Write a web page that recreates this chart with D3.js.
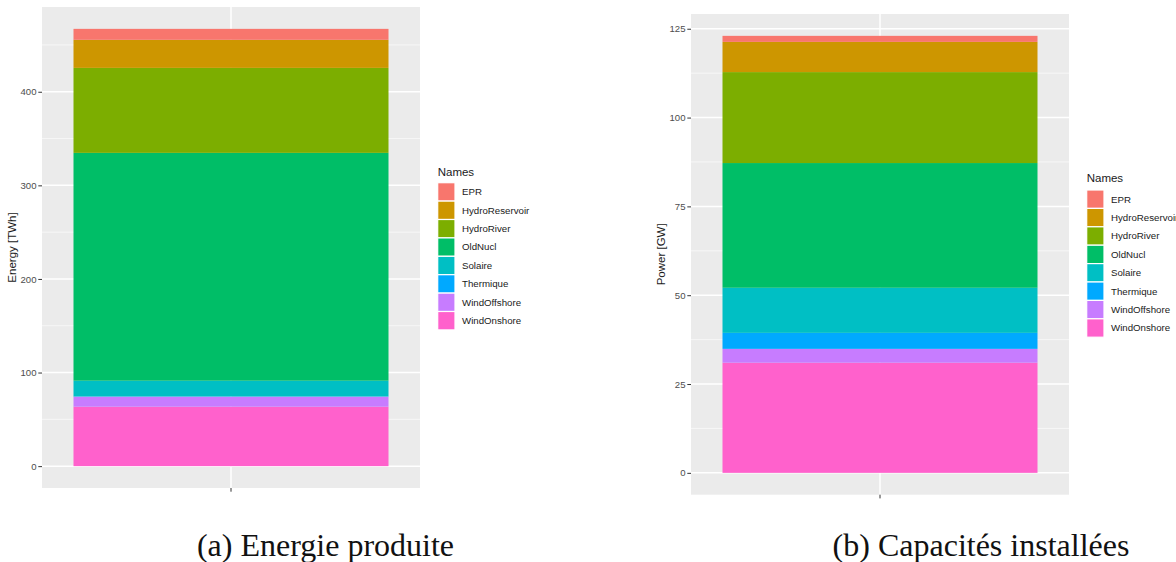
<!DOCTYPE html>
<html>
<head>
<meta charset="utf-8">
<script src="https://cdn.jsdelivr.net/npm/d3@7"></script>
<style>
  html, body { margin: 0; padding: 0; background: #ffffff; }
  svg { display: block; }
</style>
</head>
<body>
<svg id="chart" width="1176" height="562"></svg>
<script>
// ---- data ----
const names = ["EPR", "HydroReservoir", "HydroRiver", "OldNucl", "Solaire", "Thermique", "WindOffshore", "WindOnshore"];
const colors = ["#F8766D", "#CD9600", "#7CAE00", "#00BE67", "#00BFC4", "#00A9FF", "#C77CFF", "#FF61CC"];
const energyTWh = [11.7, 30.0, 90.8, 243.4, 16.8, 0.3, 10.7, 63.5];
const powerGW = [1.7, 8.5, 25.6, 35.1, 12.7, 4.5, 3.9, 31.0];
const energyTicks = [0, 100, 200, 300, 400];
const energyMinor = [50, 150, 250, 350, 450];
const powerTicks = [0, 25, 50, 75, 100, 125];
const powerMinor = [12.5, 37.5, 62.5, 87.5, 112.5];
const legendTitle = "Names";
const captions = ["(a) Energie produite", "(b) Capacités installées"];
const yTitles = ["Energy [TWh]", "Power [GW]"];

const svg = d3.select("#chart");
const SANS = "'Liberation Sans', Arial, Helvetica, sans-serif";
const SERIF = "'Liberation Serif', 'Times New Roman', serif";

function drawPanel(cfg) {
  const { left, right, top, bottom, values, ticks, minor, yTitle, yTitleX, legendX, legendTop, legendTitleY, caption, captionX } = cfg;
  const g = svg.append("g");

  // stack: bottom is last level (WindOnshore)
  const row = {};
  names.forEach((n, i) => row[n] = values[i]);
  const keys = names.slice().reverse();
  const series = d3.stack().keys(keys)([row]);
  const total = d3.sum(values);
  const ext = total * 0.05;

  const y = d3.scaleLinear().domain([-ext, total + ext]).range([bottom, top]);
  const x = d3.scaleBand().domain(["1"]).range([left, right]).paddingInner(0).paddingOuter(0.1);
  const cx = x("1") + x.bandwidth() / 2;

  // panel background
  g.append("rect").attr("x", left).attr("y", top).attr("width", right - left).attr("height", bottom - top).attr("fill", "#EBEBEB");

  // minor grid
  g.selectAll(".minor").data(minor).join("line")
    .attr("x1", left).attr("x2", right)
    .attr("y1", d => y(d)).attr("y2", d => y(d))
    .attr("stroke", "#F7F7F7").attr("stroke-width", 1);
  // major grid
  g.selectAll(".major").data(ticks).join("line")
    .attr("x1", left).attr("x2", right)
    .attr("y1", d => y(d)).attr("y2", d => y(d))
    .attr("stroke", "#FFFFFF").attr("stroke-width", 1.5);
  g.append("line").attr("x1", cx).attr("x2", cx).attr("y1", top).attr("y2", bottom)
    .attr("stroke", "#FFFFFF").attr("stroke-width", 1.5);

  // bars
  g.selectAll(".seg").data(series).join("rect")
    .attr("x", x("1"))
    .attr("width", x.bandwidth())
    .attr("y", d => y(d[0][1]))
    .attr("height", d => Math.max(0, y(d[0][0]) - y(d[0][1])))
    .attr("fill", d => colors[names.indexOf(d.key)]);

  // y axis
  const ya = g.append("g").attr("transform", `translate(${left},0)`)
    .call(d3.axisLeft(y).tickValues(ticks).tickSize(3.7).tickPadding(1.8));
  ya.select(".domain").remove();
  ya.selectAll(".tick line").attr("stroke", "#333333").attr("stroke-width", 1);
  ya.selectAll(".tick text").attr("fill", "#4D4D4D").style("font-family", SANS).style("font-size", "9.6px");

  // x axis (single empty tick)
  const xa = g.append("g").attr("transform", `translate(0,${bottom})`)
    .call(d3.axisBottom(x).tickSize(3.7).tickFormat(() => ""));
  xa.select(".domain").remove();
  xa.selectAll(".tick line").attr("stroke", "#333333").attr("stroke-width", 1);

  // y title
  g.append("text")
    .attr("transform", `translate(${yTitleX},${(top + bottom) / 2}) rotate(-90)`)
    .attr("text-anchor", "middle").attr("dy", "0.35em")
    .style("font-family", SANS).style("font-size", "11.5px").attr("fill", "#1A1A1A")
    .text(yTitle);

  // legend
  const lg = g.append("g");
  lg.append("text").attr("x", legendX).attr("y", legendTitleY)
    .style("font-family", SANS).style("font-size", "11.5px").attr("fill", "#1A1A1A")
    .text(legendTitle);
  const keyH = 18.4, keyW = 17.3;
  const items = lg.selectAll(".item").data(names).join("g")
    .attr("transform", (d, i) => `translate(${legendX},${legendTop + i * keyH})`);
  items.append("rect").attr("width", keyW).attr("height", keyH)
    .attr("fill", (d, i) => colors[i]).attr("stroke", "#FFFFFF").attr("stroke-width", 1.2);
  items.append("text").attr("x", keyW + 7).attr("y", keyH / 2).attr("dy", "0.35em")
    .style("font-family", SANS).style("font-size", "9.7px").attr("fill", "#1A1A1A")
    .text(d => d);

  // caption
  svg.append("text").attr("x", captionX).attr("y", 556)
    .attr("text-anchor", "middle")
    .style("font-family", SERIF).style("font-size", "32px").attr("fill", "#111111")
    .text(caption);
}

drawPanel({
  left: 42, right: 420, top: 7, bottom: 488,
  values: energyTWh, ticks: energyTicks, minor: energyMinor,
  yTitle: yTitles[0], yTitleX: 12,
  legendX: 437.7, legendTop: 182.7, legendTitleY: 175.5,
  caption: captions[0], captionX: 325.5
});
drawPanel({
  left: 691, right: 1069, top: 14, bottom: 494.7,
  values: powerGW, ticks: powerTicks, minor: powerMinor,
  yTitle: yTitles[1], yTitleX: 660.5,
  legendX: 1086.7, legendTop: 190, legendTitleY: 181.5,
  caption: captions[1], captionX: 981
});
</script>
</body>
</html>
